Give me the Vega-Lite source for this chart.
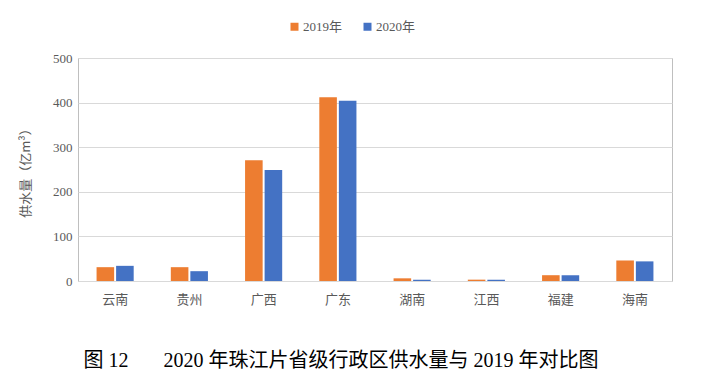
{
  "$schema": "https://vega.github.io/schema/vega-lite/v6.json",
  "width": 594,
  "height": 223,
  "autosize": {"type": "none"},
  "padding": {"left": 78, "top": 58, "right": 55, "bottom": 109},
  "background": "white",
  "data": {"values": [
    {"region": "云南", "year": "2019年", "value": 31},
    {"region": "云南", "year": "2020年", "value": 34},
    {"region": "贵州", "year": "2019年", "value": 31},
    {"region": "贵州", "year": "2020年", "value": 22},
    {"region": "广西", "year": "2019年", "value": 271},
    {"region": "广西", "year": "2020年", "value": 249},
    {"region": "广东", "year": "2019年", "value": 412},
    {"region": "广东", "year": "2020年", "value": 404},
    {"region": "湖南", "year": "2019年", "value": 6},
    {"region": "湖南", "year": "2020年", "value": 3},
    {"region": "江西", "year": "2019年", "value": 3},
    {"region": "江西", "year": "2020年", "value": 3},
    {"region": "福建", "year": "2019年", "value": 13},
    {"region": "福建", "year": "2020年", "value": 13},
    {"region": "海南", "year": "2019年", "value": 46},
    {"region": "海南", "year": "2020年", "value": 44}
  ]},
  "title": {
    "text": "图 12\u00a0\u00a0\u00a0\u00a0\u00a0\u00a0\u00a02020 年珠江片省级行政区供水量与 2019 年对比图",
    "orient": "bottom",
    "anchor": "middle",
    "dx": -34,
    "offset": 45,
    "font": "Liberation Serif, Noto Sans CJK SC",
    "fontSize": 20,
    "fontWeight": "normal",
    "color": "#000000"
  },
  "mark": {"type": "bar"},
  "encoding": {
    "x": {
      "field": "region",
      "type": "nominal",
      "sort": ["云南", "贵州", "广西", "广东", "湖南", "江西", "福建", "海南"],
      "scale": {"paddingInner": 0.5, "paddingOuter": 0.25},
      "axis": {
        "title": null,
        "labelAngle": 0,
        "ticks": false,
        "domain": false,
        "labelPadding": 12,
        "labelFont": "Noto Sans CJK SC",
        "labelFontSize": 13,
        "labelColor": "#595959"
      }
    },
    "xOffset": {
      "field": "year",
      "type": "nominal",
      "scale": {"paddingInner": 0.1}
    },
    "y": {
      "field": "value",
      "type": "quantitative",
      "scale": {"domain": [0, 500]},
      "axis": {
        "title": "供水量（亿m³）",
        "titleFont": "Noto Sans CJK SC",
        "titleFontSize": 13,
        "titleFontWeight": "normal",
        "titleColor": "#595959",
        "titlePadding": 20,
        "values": [0, 100, 200, 300, 400, 500],
        "ticks": false,
        "domain": false,
        "labelPadding": 6,
        "labelFont": "Liberation Serif",
        "labelFontSize": 13,
        "labelColor": "#595959",
        "gridColor": "#d9d9d9",
        "gridWidth": 1
      }
    },
    "color": {
      "field": "year",
      "type": "nominal",
      "scale": {"domain": ["2019年", "2020年"], "range": ["#ED7D31", "#4472C4"]},
      "legend": {
        "title": null,
        "orient": "none",
        "direction": "horizontal",
        "legendX": 210,
        "legendY": -38,
        "symbolType": "square",
        "symbolSize": 64,
        "symbolStrokeWidth": 0,
        "labelFont": "Liberation Serif, Noto Sans CJK SC",
        "labelFontSize": 13,
        "labelColor": "#595959",
        "columnPadding": 18,
        "labelOffset": 2
      }
    }
  },
  "config": {
    "view": {"stroke": "#bfbfbf", "strokeWidth": 1}
  }
}
